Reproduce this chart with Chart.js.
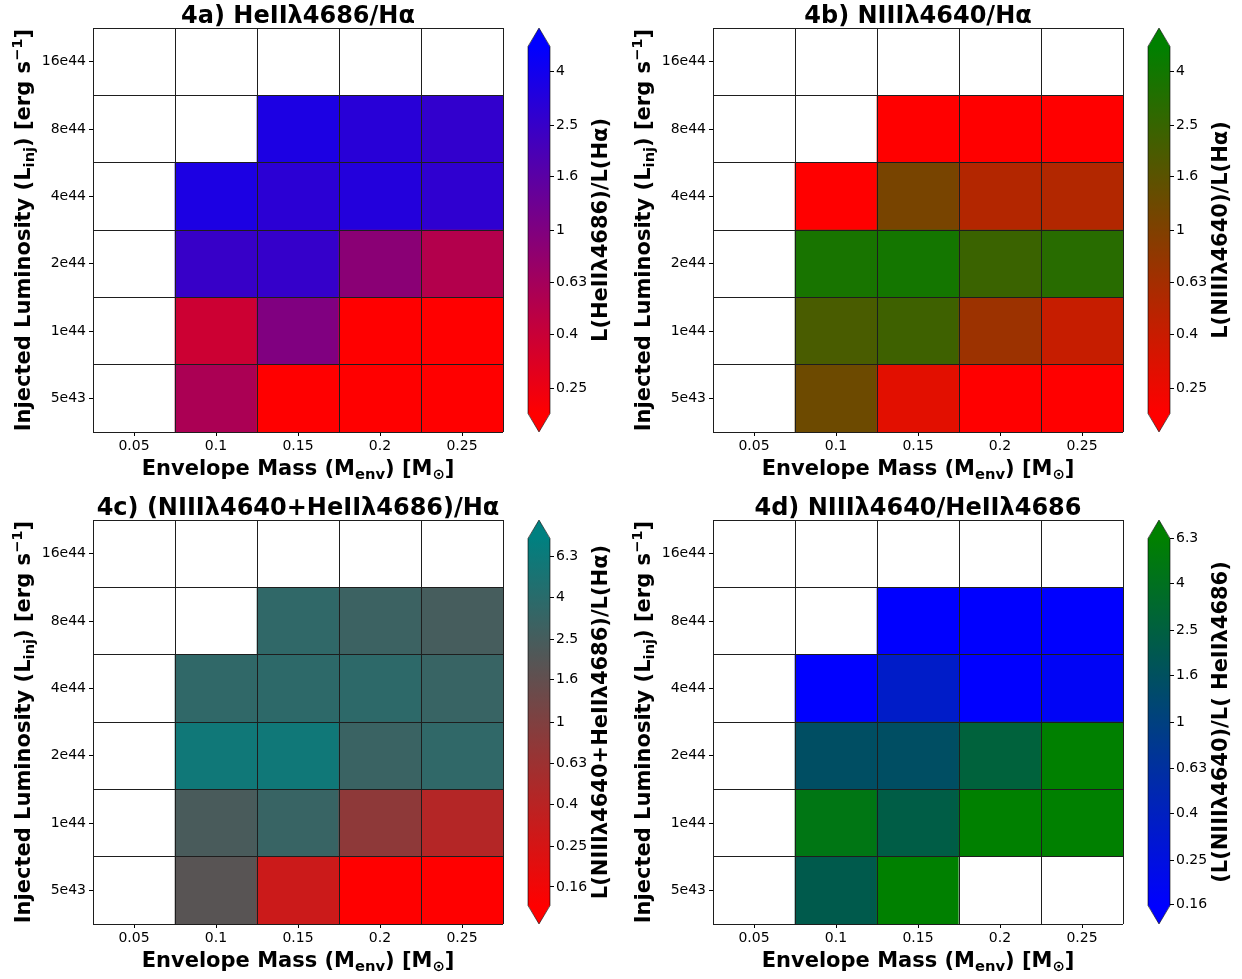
<!DOCTYPE html>
<html><head><meta charset="utf-8">
<script src="https://cdn.jsdelivr.net/npm/chart.js@4.4.1/dist/chart.umd.min.js"></script>
<style>
html,body{margin:0;padding:0;background:#fff;}
#wrap{position:relative;width:1242px;height:979px;overflow:hidden;background:#fff;}
canvas{position:absolute;}
</style></head><body><div id="wrap"></div>
<script>
// ---------- DATA ----------
const envMass = ['0.05','0.1','0.15','0.2','0.25'];
const lumLabels = ['5e43','1e44','2e44','4e44','8e44','16e44'];
// rows from bottom (5e43) to top (16e44); columns = envMass; null = no model
const heIIHa = [
  [null, 0.58, 0.10, 0.10, 0.10],
  [null, 0.38, 1.00, 0.15, 0.12],
  [null, 2.50, 2.55, 0.88, 0.52],
  [null, 3.50, 2.90, 3.20, 2.75],
  [null, null, 3.50, 3.00, 2.66],
  [null, null, null, null, null]
];
const nIIIHa = [
  [null, 1.27, 0.29, 0.12, 0.12],
  [null, 2.00, 2.30, 0.70, 0.41],
  [null, 3.70, 3.90, 2.40, 3.00],
  [null, 0.15, 1.10, 0.52, 0.53],
  [null, null, 0.10, 0.10, 0.10],
  [null, null, null, null, null]
];
const sumHa = [
  [null, 1.88, 0.30, 0.10, 0.10],
  [null, 2.40, 3.15, 0.79, 0.43],
  [null, 5.95, 6.00, 3.05, 3.55],
  [null, 3.55, 3.75, 3.75, 3.15],
  [null, null, 3.55, 2.95, 2.50],
  [null, null, null, null, null]
];
const nIIIHeII = [
  [null, 2.10, 7.00, null, null],
  [null, 4.70, 2.30, 7.00, 7.00],
  [null, 1.50, 1.50, 2.66, 7.00],
  [null, 0.12, 0.35, 0.14, 0.18],
  [null, null, 0.10, 0.10, 0.10],
  [null, null, null, null, null]
];
const cbTicksAB = [0.25, 0.4, 0.63, 1, 1.6, 2.5, 4];
const cbTickLabelsAB = ['0.25','0.4','0.63','1','1.6','2.5','4'];
const cbTicksCD = [0.16, 0.25, 0.4, 0.63, 1, 1.6, 2.5, 4, 6.3];
const cbTickLabelsCD = ['0.16','0.25','0.4','0.63','1','1.6','2.5','4','6.3'];

// ---------- SETUP ----------
const FONT = "'DejaVu Sans', sans-serif";
Chart.defaults.font.family = FONT;
Chart.defaults.color = '#000';

const panels = [
  {title:'4a) HeIIλ4686/Hα', data:heIIHa, lo:[255,0,0], hi:[0,0,255], vmin:0.2, vmax:5,
   ticks:cbTicksAB, tickLabels:cbTickLabelsAB, cbLabel:'L(HeIIλ4686)/L(Hα)', ox:0, oy:0},
  {title:'4b) NIIIλ4640/Hα', data:nIIIHa, lo:[255,0,0], hi:[0,128,0], vmin:0.2, vmax:5,
   ticks:cbTicksAB, tickLabels:cbTickLabelsAB, cbLabel:'L(NIIIλ4640)/L(Hα)', ox:620, oy:0},
  {title:'4c) (NIIIλ4640+HeIIλ4686)/Hα', data:sumHa, lo:[255,0,0], hi:[0,128,128], vmin:0.13, vmax:7.7,
   ticks:cbTicksCD, tickLabels:cbTickLabelsCD, cbLabel:'L(NIIIλ4640+HeIIλ4686)/L(Hα)', ox:0, oy:492},
  {title:'4d) NIIIλ4640/HeIIλ4686', data:nIIIHeII, lo:[0,0,255], hi:[0,128,0], vmin:0.1585, vmax:6.31,
   ticks:cbTicksCD, tickLabels:cbTickLabelsCD, cbLabel:'(L(NIIIλ4640)/L( HeIIλ4686)', ox:620, oy:492}
];

const xLabelSegs = [{t:'Envelope Mass (M'},{t:'env',sub:1},{t:') [M'},{t:'⊙',sub:1},{t:']'}];
const yLabelSegs = [{t:'Injected Luminosity (L'},{t:'inj',sub:1},{t:') [erg s'},{t:'−1',sup:1},{t:']'}];

const wrap = document.getElementById('wrap');
function makeCanvas(x, y, w, h){
  const c = document.createElement('canvas');
  c.width = w; c.height = h;
  c.style.left = x + 'px'; c.style.top = y + 'px';
  c.style.width = w + 'px'; c.style.height = h + 'px';
  wrap.appendChild(c);
  return c;
}
function rgb(c){ return 'rgb(' + c.map(Math.round).join(',') + ')'; }
function colorOf(p, v){
  if (v == null) return '#ffffff';
  let t = (Math.log10(v) - Math.log10(p.vmin)) / (Math.log10(p.vmax) - Math.log10(p.vmin));
  t = Math.max(0, Math.min(1, t));
  return rgb(p.lo.map((l, i) => l + (p.hi[i] - l) * t));
}
function drawRich(ctx, segs, size){
  let w = 0;
  const parts = segs.map(s => {
    const fs = (s.sub || s.sup) ? size * 0.7 : size;
    ctx.font = 'bold ' + fs + 'px ' + FONT;
    const mw = ctx.measureText(s.t).width;
    w += mw;
    return {s, fs, mw};
  });
  let x = -w / 2;
  ctx.textAlign = 'left';
  ctx.textBaseline = 'alphabetic';
  parts.forEach(p => {
    ctx.font = 'bold ' + p.fs + 'px ' + FONT;
    const dy = p.s.sub ? size * 0.2 : (p.s.sup ? -size * 0.38 : 0);
    ctx.fillText(p.s.t, x, dy);
    x += p.mw;
  });
}

const LABEL_SIZE = 21;
const TICK_SIZE = 14;
const LINE_COLOR = '#1e1e1e';

panels.forEach(p => {
  // ----- heatmap -----
  const cv = makeCanvas(p.ox, p.oy, 520, 487);
  const datasets = p.data.map((row, r) => ({
    data: envMass.map(() => [r, r + 1]),
    backgroundColor: row.map(v => colorOf(p, v)),
    borderWidth: 0,
    grouped: false,
    barPercentage: 1,
    categoryPercentage: 1
  }));
  const textPlugin = {
    id: 'texts',
    afterDraw(chart){
      const ctx = chart.ctx, ca = chart.chartArea;
      const cx = (ca.left + ca.right) / 2, cy = (ca.top + ca.bottom) / 2;
      ctx.save();
      ctx.fillStyle = '#000';
      ctx.font = 'bold 24px ' + FONT;
      ctx.textAlign = 'center';
      ctx.textBaseline = 'alphabetic';
      ctx.fillText(p.title, cx, ca.top - 5);
      ctx.restore();
      ctx.save();
      ctx.fillStyle = '#000';
      ctx.translate(cx, ca.bottom + 43);
      drawRich(ctx, xLabelSegs, LABEL_SIZE);
      ctx.restore();
      ctx.save();
      ctx.fillStyle = '#000';
      ctx.translate(30, cy);
      ctx.rotate(-Math.PI / 2);
      drawRich(ctx, yLabelSegs, LABEL_SIZE);
      ctx.restore();
    }
  };
  new Chart(cv, {
    type: 'bar',
    data: {labels: envMass, datasets},
    options: {
      responsive: false, animation: false, devicePixelRatio: 1, events: [],
      layout: {padding: {top: 28, right: 17, left: 0, bottom: 0}},
      plugins: {legend: {display: false}, tooltip: {enabled: false}},
      scales: {
        x: {
          type: 'category', offset: true, position: 'bottom',
          grid: {offset: false, drawOnChartArea: false, drawTicks: true, tickLength: 4, color: '#000'},
          border: {display: false},
          ticks: {font: {size: TICK_SIZE}, color: '#000', padding: 2, maxRotation: 0, autoSkip: false},
          afterFit: s => { s.height = 55; }
        },
        xg: {
          type: 'category', offset: true, position: 'top',
          grid: {offset: true, drawOnChartArea: true, drawTicks: false, color: LINE_COLOR, lineWidth: 1, z: 1},
          border: {display: false},
          ticks: {display: false},
          afterFit: s => { s.height = 0; }
        },
        y: {
          type: 'linear', min: 0, max: 6, position: 'left',
          afterBuildTicks: s => { s.ticks = lumLabels.map((_, i) => ({value: i + 0.5})); },
          ticks: {callback: (v, i) => lumLabels[i], font: {size: TICK_SIZE}, color: '#000', padding: 3},
          grid: {drawOnChartArea: false, drawTicks: true, tickLength: 4, color: '#000'},
          border: {display: false},
          afterFit: s => { s.width = 93; }
        },
        yg: {
          type: 'linear', min: 0, max: 6, position: 'right',
          ticks: {display: false, stepSize: 1},
          grid: {drawTicks: false, color: LINE_COLOR, lineWidth: 1, z: 1},
          border: {display: false},
          afterFit: s => { s.width = 0; }
        }
      }
    },
    plugins: [textPlugin]
  });

  // ----- colorbar -----
  const cb = makeCanvas(p.ox + 500, p.oy, 122, 460);
  const loC = rgb(p.lo), hiC = rgb(p.hi);
  const cbPlugin = {
    id: 'cbdeco',
    afterDatasetsDraw(chart){
      const ctx = chart.ctx, ca = chart.chartArea;
      const h = (ca.bottom - ca.top) * 0.05, mid = (ca.left + ca.right) / 2;
      ctx.save();
      ctx.fillStyle = hiC;
      ctx.beginPath(); ctx.moveTo(ca.left, ca.top + 0.5); ctx.lineTo(mid, ca.top - h); ctx.lineTo(ca.right, ca.top + 0.5); ctx.closePath(); ctx.fill();
      ctx.fillStyle = loC;
      ctx.beginPath(); ctx.moveTo(ca.left, ca.bottom - 0.5); ctx.lineTo(mid, ca.bottom + h); ctx.lineTo(ca.right, ca.bottom - 0.5); ctx.closePath(); ctx.fill();
      ctx.strokeStyle = 'rgba(0,0,0,0.6)';
      ctx.lineWidth = 1;
      ctx.beginPath();
      ctx.moveTo(ca.left, ca.top); ctx.lineTo(mid, ca.top - h); ctx.lineTo(ca.right, ca.top);
      ctx.lineTo(ca.right, ca.bottom); ctx.lineTo(mid, ca.bottom + h); ctx.lineTo(ca.left, ca.bottom);
      ctx.closePath(); ctx.stroke();
      ctx.restore();
    },
    afterDraw(chart){
      const ctx = chart.ctx, ca = chart.chartArea;
      ctx.save();
      ctx.fillStyle = '#000';
      ctx.translate(107, (ca.top + ca.bottom) / 2);
      ctx.rotate(-Math.PI / 2);
      drawRich(ctx, [{t: p.cbLabel}], LABEL_SIZE);
      ctx.restore();
    }
  };
  new Chart(cb, {
    type: 'bar',
    data: {
      labels: ['cb'],
      datasets: [{
        data: [[p.vmin, p.vmax]],
        borderWidth: 0, barPercentage: 1, categoryPercentage: 1,
        backgroundColor: (c) => {
          const ca = c.chart.chartArea;
          if (!ca) return hiC;
          const g = c.chart.ctx.createLinearGradient(0, ca.bottom, 0, ca.top);
          g.addColorStop(0, loC); g.addColorStop(1, hiC);
          return g;
        }
      }]
    },
    options: {
      responsive: false, animation: false, devicePixelRatio: 1, events: [],
      layout: {padding: {top: 46.4, bottom: 46.4, left: 28, right: 0}},
      plugins: {legend: {display: false}, tooltip: {enabled: false}},
      scales: {
        x: {display: false, offset: true},
        y: {
          type: 'logarithmic', position: 'right', min: p.vmin, max: p.vmax,
          afterBuildTicks: s => { s.ticks = p.ticks.map(v => ({value: v})); },
          ticks: {callback: (v, i) => p.tickLabels[i], font: {size: TICK_SIZE}, color: '#000', padding: 2, autoSkip: false},
          grid: {drawOnChartArea: false, drawTicks: true, tickLength: 4, color: '#000'},
          border: {display: false},
          afterFit: s => { s.width = 72; }
        }
      }
    },
    plugins: [cbPlugin]
  });
});
</script>
</body></html>
